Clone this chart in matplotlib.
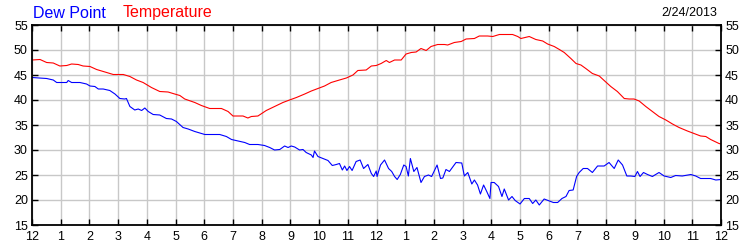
import matplotlib
matplotlib.use("Agg")
import matplotlib.pyplot as plt

# hours since midnight, values in deg F
temp_hours = [0, 0.28, 0.51, 0.74, 0.97, 1.21, 1.38, 1.61, 1.78, 2.02, 2.25, 2.6, 2.83, 3.18,
              3.41, 3.64, 3.87, 4.16, 4.45, 4.74, 4.97, 5.15, 5.32, 5.67, 5.9, 6.19, 6.6,
              6.83, 7.0, 7.35, 7.52, 7.64, 7.87, 8.16, 8.45, 8.74, 8.97, 9.21, 9.5, 9.73,
              9.96, 10.19, 10.42, 10.71, 10.95, 11.18, 11.35, 11.64, 11.82, 11.99, 12.16,
              12.34, 12.45, 12.63, 12.86, 13.03, 13.21, 13.38, 13.55, 13.73, 13.9, 14.13,
              14.37, 14.48, 14.71, 14.95, 15.12, 15.41, 15.58, 15.87, 16.05, 16.28, 16.74,
              16.92, 17.03, 17.32, 17.55, 17.79, 17.96, 18.19, 18.37, 18.54, 18.77, 18.95,
              19.12, 19.29, 19.52, 19.76, 19.93, 20.16, 20.39, 20.63, 20.8, 20.97, 21.15,
              21.38, 21.61, 21.84, 22.08, 22.31, 22.54, 22.83, 23.06, 23.29, 23.47, 23.64,
              23.93, 24.0]
temperature = [48.0, 48.1, 47.5, 47.4, 46.8, 46.9, 47.2, 47.1, 46.8, 46.7, 46.1, 45.5, 45.1, 45.1,
               44.7, 44.0, 43.5, 42.5, 41.7, 41.6, 41.2, 40.9, 40.2, 39.5, 38.9, 38.3, 38.3,
               37.7, 36.8, 36.8, 36.4, 36.7, 36.8, 37.9, 38.7, 39.5, 40.0, 40.5, 41.2, 41.8,
               42.3, 42.8, 43.5, 44.0, 44.4, 45.0, 45.9, 46.0, 46.8, 46.9, 47.3, 47.9, 47.5,
               48.0, 48.0, 49.2, 49.5, 49.6, 50.3, 49.9, 50.7, 51.1, 51.1, 51.0, 51.5, 51.7,
               52.2, 52.3, 52.8, 52.8, 52.7, 53.1, 53.1, 52.7, 52.3, 52.7, 52.1, 51.8, 51.2,
               50.7, 50.1, 49.5, 48.3, 47.3, 47.0, 46.3, 45.3, 44.8, 43.9, 42.7, 41.7, 40.3,
               40.2, 40.2, 39.8, 38.7, 37.7, 36.7, 36.0, 35.2, 34.5, 33.8, 33.3, 32.8, 32.7,
               32.1, 31.3, 31.2]

dew_hours = [0, 0.51, 0.74, 0.86, 1.21, 1.26, 1.38, 1.67, 1.9, 2.02, 2.19, 2.31, 2.48, 2.71,
             2.89, 3.06, 3.23, 3.29, 3.41, 3.58, 3.7, 3.82, 3.93, 4.05, 4.22, 4.45, 4.68,
             4.86, 5.03, 5.26, 5.44, 5.67, 5.9, 6.02, 6.25, 6.54, 6.77, 6.95, 7.18, 7.41,
             7.58, 7.87, 8.1, 8.28, 8.45, 8.63, 8.8, 8.92, 9.03, 9.15, 9.32, 9.44, 9.55,
             9.73, 9.79, 9.84, 9.96, 10.13, 10.31, 10.46, 10.6, 10.71, 10.81, 10.89, 10.97,
             11.06, 11.15, 11.29, 11.43, 11.55, 11.7, 11.82, 11.9, 11.99, 12.02, 12.14,
             12.28, 12.42, 12.53, 12.63, 12.72, 12.83, 12.95, 13.03, 13.11, 13.18, 13.3,
             13.41, 13.55, 13.67, 13.81, 13.92, 14.11, 14.23, 14.31, 14.42, 14.54, 14.77,
             14.97, 15.06, 15.18, 15.32, 15.41, 15.52, 15.62, 15.73, 15.84, 15.95, 15.99,
             16.1, 16.25, 16.37, 16.45, 16.6, 16.72, 16.83, 17.0, 17.15, 17.32, 17.44,
             17.55, 17.67, 17.84, 18.02, 18.16, 18.31, 18.46, 18.6, 18.71, 18.85, 18.97,
             19.06, 19.2, 19.35, 19.52, 19.7, 19.93, 20.1, 20.28, 20.42, 20.57, 20.72,
             20.86, 21.0, 21.09, 21.18, 21.3, 21.44, 21.61, 21.84, 22.02, 22.25, 22.42,
             22.65, 22.95, 23.12, 23.29, 23.64, 23.82, 24.0]
dew_point = [44.5, 44.3, 44.0, 43.5, 43.5, 43.9, 43.5, 43.5, 43.2, 42.8, 42.7, 42.2, 42.2, 41.9,
             41.2, 40.3, 40.2, 40.3, 38.7, 38.0, 38.2, 37.9, 38.4, 37.7, 37.1, 37.0, 36.3,
             36.2, 35.7, 34.5, 34.2, 33.7, 33.3, 33.1, 33.1, 33.1, 32.7, 32.1, 31.8, 31.5,
             31.1, 31.1, 30.9, 30.5, 30.0, 30.1, 30.8, 30.5, 30.8, 30.6, 30.0, 30.1, 29.5,
             29.0, 28.5, 29.8, 28.7, 28.3, 27.9, 26.9, 27.1, 27.3, 26.0, 26.8, 25.9, 26.7,
             25.9, 27.7, 28.0, 26.3, 27.1, 25.3, 24.7, 25.8, 24.7, 27.0, 28.0, 26.3, 25.7,
             24.7, 24.1, 25.1, 27.0, 26.7, 24.8, 28.3, 25.7, 26.5, 23.5, 24.7, 25.0, 24.7,
             27.0, 24.3, 24.4, 26.1, 25.7, 27.5, 27.4, 24.8, 25.5, 23.2, 24.0, 23.0, 21.2,
             23.0, 21.7, 20.3, 23.5, 23.5, 22.7, 20.7, 22.2, 20.0, 20.7, 19.9, 19.2, 20.3,
             20.3, 19.3, 20.0, 19.0, 20.2, 19.8, 19.5, 19.5, 20.3, 20.7, 21.9, 22.0, 24.7,
             25.5, 26.3, 26.3, 25.5, 26.8, 26.8, 27.5, 26.3, 28.0, 27.0, 24.8, 24.8, 24.7,
             25.7, 24.7, 25.5, 25.1, 24.7, 25.5, 24.8, 24.5, 24.9, 24.8, 25.1, 24.8, 24.3,
             24.3, 24.0, 24.1]

x_ticks = list(range(0, 25))
x_labels = ["12", "1", "2", "3", "4", "5", "6", "7", "8", "9", "10", "11",
            "12", "1", "2", "3", "4", "5", "6", "7", "8", "9", "10", "11", "12"]
y_ticks = [15, 20, 25, 30, 35, 40, 45, 50, 55]
date_label = "2/24/2013"

plt.rcParams['font.family'] = ['Liberation Sans', 'DejaVu Sans']

fig = plt.figure(figsize=(7.5, 2.5), dpi=100)
ax = fig.add_axes([32/750, 0.1, 689/750, 0.8])

ax.plot(temp_hours, temperature, color='#ff0000', lw=0.8)
ax.plot(dew_hours, dew_point, color='#0000ff', lw=0.8)

ax.set_xlim(0, 24)
ax.set_ylim(15, 55)
ax.set_xticks(x_ticks)
ax.set_xticklabels(x_labels)
ax.set_yticks(y_ticks)
ax.grid(True, color='#c8c8c8', lw=1)
ax.set_axisbelow(True)

for s in ax.spines.values():
    s.set_color('black')
    s.set_linewidth(1.3)

ax.tick_params(axis='x', which='both', direction='in', top=True, bottom=True,
               length=4, width=1, labelsize=9, pad=4)
ax.tick_params(axis='y', which='both', direction='in', left=True, right=True,
               labelleft=True, labelright=True, length=4, width=1, labelsize=9, pad=3)

fig.text(33/750, 1 - 13/250, "Dew Point", color='#0000ff', fontsize=11.5, va='center', ha='left')
fig.text(123/750, 1 - 13/250, "Temperature", color='#ff0000', fontsize=11.5, va='center', ha='left')
fig.text(717/750, 1 - 13/250, date_label, color='black', fontsize=9, va='center', ha='right')

fig.savefig("out.png", dpi=100)
